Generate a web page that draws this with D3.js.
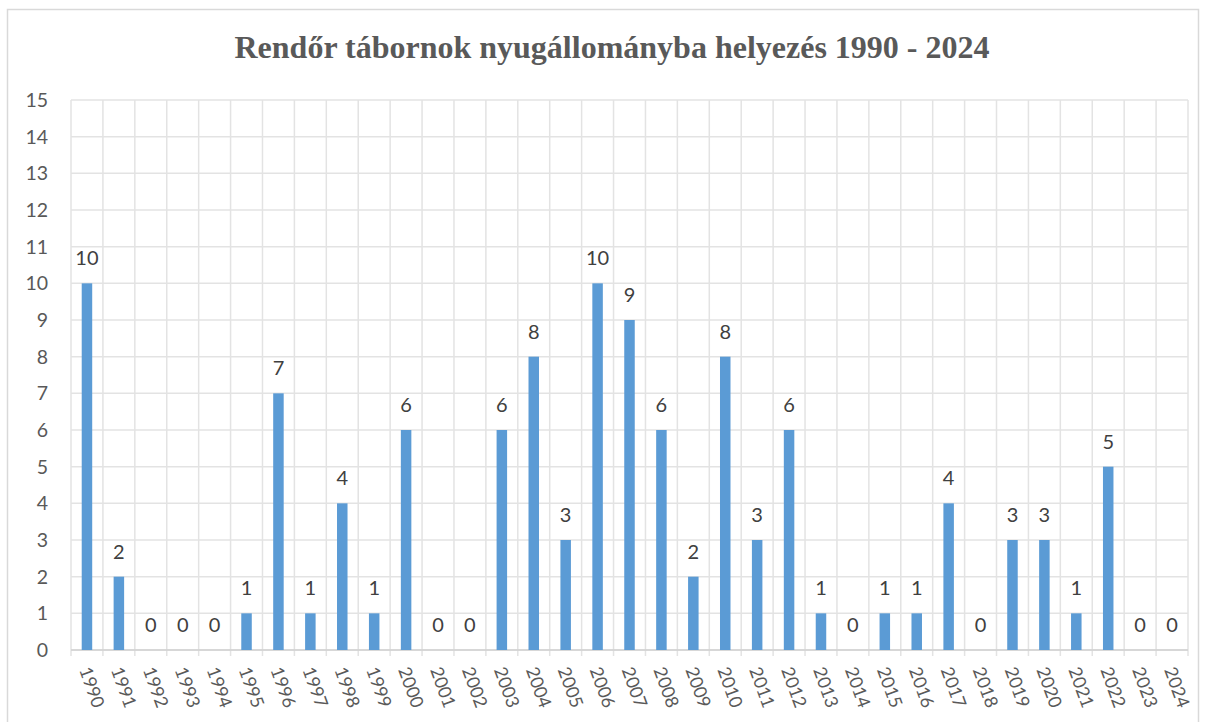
<!DOCTYPE html>
<html><head><meta charset="utf-8">
<script src="https://cdn.jsdelivr.net/npm/d3@7"></script>
<style>body{margin:0;background:#fff}</style>
</head><body>
<svg id="c" width="1206" height="722"></svg>
<script>
const years = ["1990","1991","1992","1993","1994","1995","1996","1997","1998","1999","2000","2001","2002","2003","2004","2005","2006","2007","2008","2009","2010","2011","2012","2013","2014","2015","2016","2017","2018","2019","2020","2021","2022","2023","2024"];
const values = [10,2,0,0,0,1,7,1,4,1,6,0,0,6,8,3,10,9,6,2,8,3,6,1,0,1,1,4,0,3,3,1,5,0,0];
const yTicks = [0,1,2,3,4,5,6,7,8,9,10,11,12,13,14,15];
const title = "Rendőr tábornok nyugállományba helyezés 1990 - 2024";

const svg = d3.select("#c");
const m = {l:71, r:1188, t:100, b:650};
const txt = "#595959";
const font = "Lato, 'Open Sans', sans-serif";

svg.append("rect").attr("x",7.5).attr("y",9.5).attr("width",1191).attr("height",720)
  .attr("fill","#fff").attr("stroke","#d9d9d9").attr("stroke-width",1.5);

svg.append("text").attr("x",612).attr("y",58).attr("text-anchor","middle")
  .attr("font-family","'Liberation Serif', serif").attr("font-weight","bold")
  .attr("font-size",31.5).attr("fill",txt)
  .attr("textLength",755).attr("lengthAdjust","spacingAndGlyphs").text(title);

const x = d3.scaleBand().domain(years).range([m.l,m.r]).paddingInner(0).paddingOuter(0);
const y = d3.scaleLinear().domain([0,15]).range([m.b,m.t]);

// horizontal gridlines
svg.append("g").selectAll("line").data(yTicks).join("line")
  .attr("x1",m.l).attr("x2",m.r).attr("y1",d=>y(d)).attr("y2",d=>y(d))
  .attr("stroke","#e3e3e3").attr("stroke-width",1.5);
// vertical gridlines at category boundaries
const bounds = years.map(d=>x(d)).concat([m.r]);
svg.append("g").selectAll("line").data(bounds).join("line")
  .attr("x1",d=>d).attr("x2",d=>d).attr("y1",m.t).attr("y2",m.b+6)
  .attr("stroke","#e3e3e3").attr("stroke-width",1.5);
// x axis line
svg.append("line").attr("x1",m.l).attr("x2",m.r).attr("y1",m.b).attr("y2",m.b)
  .attr("stroke","#d0d0d0").attr("stroke-width",1.5);

// y tick labels
svg.append("g").selectAll("text").data(yTicks).join("text")
  .attr("x",48).attr("y",d=>y(d)).attr("dy","0.36em").attr("text-anchor","end")
  .attr("font-family",font).attr("font-size",19.5).attr("fill",txt).text(d=>d);

// bars
const bw = 10.5;
svg.append("g").selectAll("rect").data(values).join("rect")
  .attr("x",(d,i)=>x(years[i])+x.bandwidth()/2-bw/2)
  .attr("y",d=>y(d)).attr("width",bw).attr("height",d=>y(0)-y(d))
  .attr("fill","#5b9bd5");

// data labels
svg.append("g").selectAll("text").data(values).join("text")
  .attr("x",(d,i)=>x(years[i])+x.bandwidth()/2)
  .attr("y",d=>y(d)-18).attr("text-anchor","middle")
  .attr("font-family",font).attr("font-size",20).attr("fill","#404040").text(d=>d);

// x labels
svg.append("g").selectAll("text").data(years).join("text")
  .attr("transform",d=>`translate(${x(d)+x.bandwidth()/2-3},668) rotate(70)`)
  .attr("dy","0.3em").attr("text-anchor","start")
  .attr("font-family",font).attr("font-size",18).attr("fill",txt).text(d=>d);
</script>
</body></html>
